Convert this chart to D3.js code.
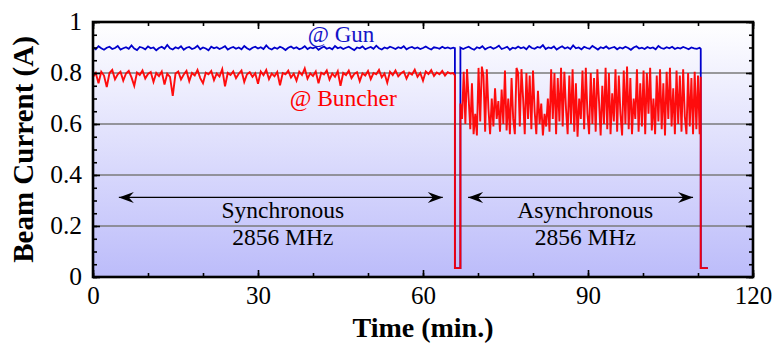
<!DOCTYPE html>
<html><head><meta charset="utf-8">
<script src="https://cdn.jsdelivr.net/npm/d3@7"></script>
<style>html,body{margin:0;padding:0;background:#fff;}svg{display:block;}</style>
</head><body>
<svg id="chart" width="774" height="343"></svg>
<script>
// ---------- data ----------
const xTicks = [0, 30, 60, 90, 120];
const yTicks = [0, 0.2, 0.4, 0.6, 0.8, 1];
const yTickLabels = ["0", "0.2", "0.4", "0.6", "0.8", "1"];
const gridValues = [0.2, 0.4, 0.6, 0.8];

// synchronous period: samples from 0 min, every 0.5 min
const syncStart = 0, syncStep = 0.5;
const gunSync = [
0.900,0.893,0.905,0.897,0.891,0.899,0.903,0.894,0.898,0.906,
0.892,0.897,0.901,0.895,0.908,0.896,0.890,0.902,0.899,0.893,
0.904,0.897,0.900,0.889,0.898,0.903,0.895,0.910,0.897,0.892,
0.901,0.896,0.905,0.891,0.899,0.902,0.894,0.898,0.907,0.893,
0.900,0.896,0.889,0.903,0.897,0.901,0.894,0.899,0.905,0.892,
0.898,0.902,0.895,0.900,0.893,0.906,0.897,0.891,0.899,0.903,
0.896,0.901,0.894,0.908,0.897,0.892,0.900,0.895,0.903,0.898,
0.890,0.899,0.904,0.896,0.901,0.893,0.897,0.905,0.894,0.900,
0.897,0.902,0.891,0.898,0.904,0.895,0.899,0.893,0.906,0.897,
0.901,0.894,0.899,0.903,0.896,0.890,0.900,0.897,0.904,0.893,
0.898,0.902,0.895,0.907,0.897,0.892,0.900,0.896,0.903,0.899,
0.894,0.901,0.897,0.905,0.893,0.899,0.902,0.896,0.900,0.894,
0.898,0.904,0.897,0.892,0.901,0.899,0.895,0.903,0.897,0.900,
0.896,0.899];
const buncherSync = [
0.785,0.800,0.760,0.805,0.790,0.745,0.800,0.812,0.775,0.795,
0.805,0.770,0.798,0.808,0.783,0.750,0.802,0.792,0.810,0.778,
0.796,0.804,0.765,0.800,0.788,0.806,0.755,0.797,0.785,0.710,
0.798,0.806,0.775,0.794,0.808,0.768,0.800,0.790,0.812,0.780,
0.760,0.801,0.795,0.808,0.772,0.798,0.786,0.815,0.748,0.800,
0.792,0.806,0.780,0.797,0.810,0.765,0.795,0.803,0.785,0.799,
0.758,0.806,0.791,0.812,0.776,0.798,0.787,0.804,0.752,0.800,
0.795,0.809,0.782,0.797,0.770,0.805,0.792,0.818,0.778,0.799,
0.788,0.806,0.760,0.801,0.794,0.810,0.774,0.798,0.785,0.807,
0.750,0.800,0.792,0.809,0.780,0.796,0.803,0.768,0.799,0.790,
0.808,0.776,0.800,0.795,0.812,0.783,0.798,0.762,0.805,0.792,
0.810,0.787,0.799,0.806,0.778,0.801,0.794,0.813,0.785,0.800,
0.770,0.806,0.796,0.811,0.788,0.802,0.795,0.808,0.790,0.803,
0.798,0.800];

// beam-off gap between the two periods
const gapTimes = [65.8, 65.8, 66.8];
const gunGap = [0.897, 0.035, 0.035];
const buncherGap = [0.790, 0.035, 0.035];

// asynchronous period
const asyncStart = 66.8;
const gunAsyncStep = 0.5;
const gunAsync = [
0.900,0.894,0.899,0.903,0.896,0.891,0.901,0.897,0.905,0.893,
0.899,0.902,0.895,0.900,0.907,0.894,0.898,0.903,0.891,0.899,
0.896,0.904,0.897,0.901,0.893,0.906,0.898,0.895,0.902,0.899,
0.909,0.894,0.900,0.897,0.904,0.892,0.899,0.905,0.896,0.901,
0.894,0.908,0.897,0.900,0.893,0.903,0.898,0.895,0.906,0.899,
0.892,0.901,0.897,0.904,0.895,0.899,0.902,0.893,0.900,0.896,
0.903,0.898,0.891,0.900,0.905,0.896,0.899,0.894,0.902,0.897,
0.900,0.893,0.906,0.898,0.895,0.901,0.897,0.903,0.894,0.899,
0.896,0.902,0.898,0.893,0.900,0.897,0.895,0.899];
const buncherAsyncStep = 0.3;
const buncherAsync = [
0.680,0.620,0.805,0.600,0.815,0.700,0.580,0.760,0.560,0.640,
0.555,0.820,0.610,0.825,0.790,0.570,0.815,0.660,0.560,0.700,
0.590,0.740,0.620,0.690,0.570,0.735,0.600,0.810,0.575,0.700,
0.560,0.780,0.620,0.560,0.820,0.800,0.590,0.815,0.700,0.560,
0.800,0.620,0.790,0.580,0.810,0.650,0.560,0.730,0.600,0.680,
0.555,0.640,0.590,0.700,0.570,0.815,0.620,0.800,0.560,0.780,
0.610,0.820,0.590,0.805,0.660,0.560,0.790,0.600,0.815,0.570,
0.760,0.550,0.700,0.620,0.810,0.580,0.820,0.640,0.560,0.800,
0.600,0.780,0.570,0.815,0.690,0.555,0.750,0.600,0.820,0.580,
0.800,0.560,0.720,0.610,0.815,0.570,0.790,0.640,0.555,0.810,
0.600,0.825,0.580,0.780,0.560,0.700,0.620,0.815,0.570,0.760,
0.590,0.810,0.560,0.800,0.640,0.820,0.575,0.700,0.560,0.790,
0.610,0.815,0.580,0.760,0.555,0.805,0.620,0.820,0.590,0.740,
0.560,0.810,0.600,0.790,0.570,0.815,0.630,0.560,0.800,0.590,
0.780,0.560,0.805,0.580,0.790,0.560];

// beam turned off at the end
const endTimes = [110.5, 110.5, 111.8];
const gunEnd = [0.895, 0.035, 0.035];
const buncherEnd = [0.785, 0.035, 0.035];

// annotations
const arrowY = 0.312;
const syncArrow = [4.7, 63.6];
const asyncArrow = [68.2, 109.1];
const syncLabel = {t: 34.5, lines: ["Synchronous", "2856 MHz"]};
const asyncLabel = {t: 89.5, lines: ["Asynchronous", "2856 MHz"]};

// ---------- drawing ----------
const svg = d3.select("#chart");
const L = 93, R = 753, T = 22, B = 277;
const x = d3.scaleLinear().domain([0, 120]).range([L, R]);
const y = d3.scaleLinear().domain([0, 1]).range([B, T]);
const serif = "'Liberation Serif','Times New Roman',serif";

const defs = svg.append("defs");
const grad = defs.append("linearGradient").attr("id", "bg").attr("x1", 0).attr("y1", 0).attr("x2", 0).attr("y2", 1);
grad.append("stop").attr("offset", "0%").attr("stop-color", "#ffffff");
grad.append("stop").attr("offset", "100%").attr("stop-color", "#bcbcfa");

const mk = defs.append("marker").attr("id", "arr").attr("markerUnits", "userSpaceOnUse")
  .attr("viewBox", "-16 -6 17 12").attr("refX", 0).attr("refY", 0)
  .attr("markerWidth", 17).attr("markerHeight", 12).attr("orient", "auto-start-reverse");
mk.append("path").attr("d", "M0,0 L-15,-5.5 L-10,0 L-15,5.5 Z").attr("fill", "#000");

svg.append("rect").attr("x", L).attr("y", T).attr("width", R - L).attr("height", B - T).attr("fill", "url(#bg)");

svg.append("g").selectAll("line").data(gridValues).join("line")
  .attr("x1", L).attr("x2", R).attr("y1", d => y(d)).attr("y2", d => y(d))
  .attr("stroke", "#7a7a7a").attr("stroke-width", 1.6);

function seriesPoints(start, step, vals) {
  return vals.map((v, i) => ({t: start + i * step, v}));
}
function pairs(ts, vs) { return ts.map((t, i) => ({t, v: vs[i]})); }

const gunPts = [].concat(
  seriesPoints(syncStart, syncStep, gunSync),
  pairs(gapTimes, gunGap),
  seriesPoints(asyncStart, gunAsyncStep, gunAsync),
  pairs(endTimes, gunEnd));
const bunPts = [].concat(
  seriesPoints(syncStart, syncStep, buncherSync),
  pairs(gapTimes, buncherGap),
  seriesPoints(asyncStart, buncherAsyncStep, buncherAsync),
  pairs(endTimes, buncherEnd));

const line = d3.line().x(d => x(d.t)).y(d => y(d.v));
svg.append("path").attr("d", line(gunPts)).attr("fill", "none").attr("stroke", "#0000cc").attr("stroke-width", 1.8);
svg.append("path").attr("d", line(bunPts)).attr("fill", "none").attr("stroke", "#ff0000").attr("stroke-width", 1.9).attr("stroke-opacity", 0.95);

// ticks
const yMinor = d3.range(0, 1.0001, 0.05).map(v => +v.toFixed(2));
const xMinor = d3.range(0, 121, 10);
function tickGroup(axis, tr) {
  const g = svg.append("g").attr("transform", tr).call(axis);
  g.select(".domain").remove();
  g.selectAll("text").remove();
  g.selectAll("line").attr("stroke", "#000").attr("stroke-width", 1.6);
  return g;
}
tickGroup(d3.axisRight(y).tickValues(yMinor).tickSize(4).tickFormat(""), `translate(${L},0)`);
tickGroup(d3.axisLeft(y).tickValues(yMinor).tickSize(4).tickFormat(""), `translate(${R},0)`);
tickGroup(d3.axisTop(x).tickValues(xMinor).tickSize(4).tickFormat(""), `translate(0,${B})`);
tickGroup(d3.axisBottom(x).tickValues(xMinor).tickSize(4).tickFormat(""), `translate(0,${T})`);
tickGroup(d3.axisTop(x).tickValues(xTicks).tickSize(7).tickFormat(""), `translate(0,${B})`);
tickGroup(d3.axisBottom(x).tickValues(xTicks).tickSize(7).tickFormat(""), `translate(0,${T})`);
tickGroup(d3.axisRight(y).tickValues(yTicks).tickSize(7).tickFormat(""), `translate(${L},0)`);
tickGroup(d3.axisLeft(y).tickValues(yTicks).tickSize(7).tickFormat(""), `translate(${R},0)`);

svg.append("rect").attr("x", L).attr("y", T).attr("width", R - L).attr("height", B - T)
  .attr("fill", "none").attr("stroke", "#000").attr("stroke-width", 2.6);

// tick labels via axes
const yl = svg.append("g").attr("transform", `translate(${L},0)`)
  .call(d3.axisLeft(y).tickValues(yTicks).tickSize(0).tickPadding(11).tickFormat((d, i) => yTickLabels[i]));
yl.select(".domain").remove();
yl.selectAll("text").attr("font-family", serif).attr("font-size", 25.5).attr("fill", "#000").attr("dy", "0.3em");

const xl = svg.append("g").attr("transform", `translate(0,${B})`)
  .call(d3.axisBottom(x).tickValues(xTicks).tickSize(0).tickPadding(10).tickFormat(d3.format("d")));
xl.select(".domain").remove();
xl.selectAll("text").attr("font-family", serif).attr("font-size", 25).attr("fill", "#000").attr("dy", "0.68em");

// axis titles
svg.append("text").attr("x", (L + R) / 2).attr("y", 337).attr("text-anchor", "middle")
  .attr("font-family", serif).attr("font-weight", "bold").attr("font-size", 28).text("Time (min.)");
svg.append("text").attr("transform", `translate(33,${(T + B) / 2}) rotate(-90)`).attr("text-anchor", "middle")
  .attr("font-family", serif).attr("font-weight", "bold").attr("font-size", 29).text("Beam Current (A)");

// series labels
svg.append("text").attr("x", x(45.1)).attr("y", 42).attr("text-anchor", "middle")
  .attr("font-family", serif).attr("font-size", 23).attr("fill", "#1414c8").text("@ Gun");
svg.append("text").attr("x", x(45.5)).attr("y", 106).attr("text-anchor", "middle")
  .attr("font-family", serif).attr("font-size", 23.5).attr("fill", "#ff0000").text("@ Buncher");

// arrows
[syncArrow, asyncArrow].forEach(a => {
  svg.append("line").attr("x1", x(a[0])).attr("x2", x(a[1])).attr("y1", y(arrowY)).attr("y2", y(arrowY))
    .attr("stroke", "#000").attr("stroke-width", 1.3)
    .attr("marker-start", "url(#arr)").attr("marker-end", "url(#arr)");
});
[syncLabel, asyncLabel].forEach(lb => {
  lb.lines.forEach((s, i) => {
    svg.append("text").attr("x", x(lb.t)).attr("y", 218 + i * 26.5).attr("text-anchor", "middle")
      .attr("font-family", serif).attr("font-size", 23.5).attr("fill", "#000").text(s);
  });
});
</script>
</body></html>
